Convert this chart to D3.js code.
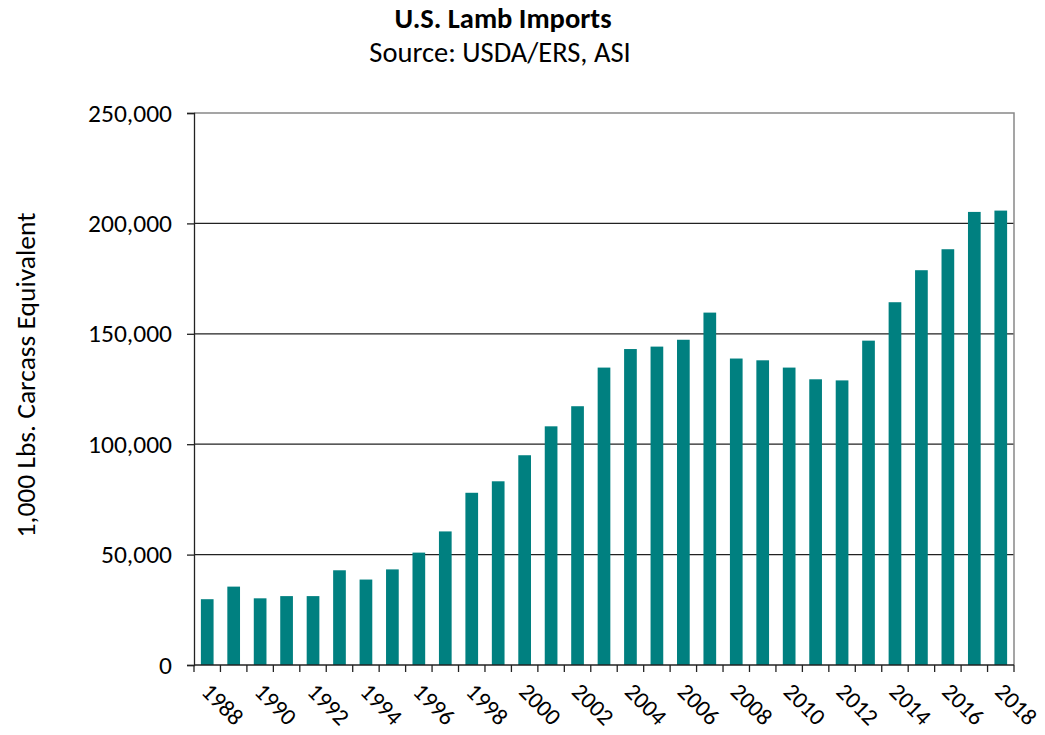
<!DOCTYPE html>
<html>
<head>
<meta charset="utf-8">
<script src="https://cdn.jsdelivr.net/npm/d3@7"></script>
<style>
  body { margin: 0; background: #fff; }
  text { font-family: Calibri, Carlito, "Liberation Sans", sans-serif; fill: #000; }
</style>
</head>
<body>
<svg id="chart"></svg>
<script>
// data (1,000 lbs carcass equivalent)
var years = [1988, 1989, 1990, 1991, 1992, 1993, 1994, 1995, 1996, 1997,
             1998, 1999, 2000, 2001, 2002, 2003, 2004, 2005, 2006, 2007,
             2008, 2009, 2010, 2011, 2012, 2013, 2014, 2015, 2016, 2017, 2018];
var imports = [29800, 35500, 30200, 31200, 31200, 42900, 38700, 43300, 50900, 60500,
               78000, 83200, 95000, 108100, 117200, 134700, 143100, 144200, 147300, 159600,
               138800, 138000, 134700, 129400, 128900, 146900, 164300, 178800, 188300, 205200, 205800];
var yTicks = [0, 50000, 100000, 150000, 200000, 250000];
var xLabelYears = years.filter(function (d) { return d % 2 === 0; });

var W = 1045, H = 735;
var m = { left: 194, right: 1014, top: 113, bottom: 665 };

var svg = d3.select('#chart')
    .attr('width', W)
    .attr('height', H);

var x = d3.scaleBand()
    .domain(years)
    .range([m.left, m.right])
    .paddingInner(0.52)
    .paddingOuter(0.26);

var y = d3.scaleLinear()
    .domain([0, 250000])
    .range([m.bottom, m.top]);

// gridlines
svg.append('g')
    .selectAll('line')
    .data(yTicks.slice(1, -1))
    .enter()
    .append('line')
    .attr('x1', m.left).attr('x2', m.right)
    .attr('y1', function (d) { return y(d); })
    .attr('y2', function (d) { return y(d); })
    .attr('stroke', '#222')
    .attr('stroke-width', 1.3);

// plot border top / right
svg.append('path')
    .attr('d', 'M' + m.left + ',' + m.top + 'H' + m.right + 'V' + m.bottom)
    .attr('fill', 'none')
    .attr('stroke', '#888')
    .attr('stroke-width', 1.5);

// bars
svg.append('g')
    .selectAll('rect')
    .data(imports)
    .enter()
    .append('rect')
    .attr('x', function (d, i) { return x(years[i]); })
    .attr('y', function (d) { return y(d); })
    .attr('width', x.bandwidth())
    .attr('height', function (d) { return y(0) - y(d); })
    .attr('fill', '#008080');

// y axis
var yAxis = d3.axisLeft(y)
    .tickValues(yTicks)
    .tickSize(7)
    .tickPadding(15)
    .tickFormat(d3.format(','));

var gy = svg.append('g')
    .attr('transform', 'translate(' + m.left + ',0)')
    .call(yAxis);
gy.select('.domain').attr('stroke', '#222').attr('stroke-width', 1.3);
gy.selectAll('.tick line').attr('stroke', '#222').attr('stroke-width', 1.3);
gy.selectAll('.tick text')
    .style('font-size', '25.5px')
    .style('font-family', 'Calibri, Carlito, "Liberation Sans", sans-serif')
    .attr('fill', '#111');

// x axis: ticks at category boundaries
var step = x.step();
var bounds = d3.range(years.length + 1).map(function (i) { return m.left + i * step; });

svg.append('line')
    .attr('x1', m.left).attr('x2', m.right)
    .attr('y1', m.bottom).attr('y2', m.bottom)
    .attr('stroke', '#222')
    .attr('stroke-width', 1.3);

svg.append('g')
    .selectAll('line')
    .data(bounds)
    .enter()
    .append('line')
    .attr('x1', function (d) { return d; })
    .attr('x2', function (d) { return d; })
    .attr('y1', m.bottom)
    .attr('y2', m.bottom + 7)
    .attr('stroke', '#222')
    .attr('stroke-width', 1.3);

svg.append('g')
    .selectAll('text')
    .data(xLabelYears)
    .enter()
    .append('text')
    .attr('transform', function (d) {
        return 'translate(' + (x(d) + x.bandwidth() / 2 - 7) + ',' + (m.bottom + 28) + ') rotate(45)';
    })
    .attr('text-anchor', 'start')
    .style('font-size', '23.5px')
    .attr('fill', '#111')
    .text(function (d) { return d; });

// titles
svg.append('text')
    .attr('x', 503).attr('y', 28)
    .attr('text-anchor', 'middle')
    .style('font-size', '28.5px')
    .style('font-weight', 'bold')
    .text('U.S. Lamb Imports');

svg.append('text')
    .attr('x', 500).attr('y', 62)
    .attr('text-anchor', 'middle')
    .style('font-size', '28.5px')
    .attr('fill', '#111')
    .text('Source: USDA/ERS, ASI');

svg.append('text')
    .attr('transform', 'translate(35,375) rotate(-90)')
    .attr('text-anchor', 'middle')
    .style('font-size', '27.5px')
    .attr('fill', '#111')
    .text('1,000 Lbs. Carcass Equivalent');
</script>
</body>
</html>
